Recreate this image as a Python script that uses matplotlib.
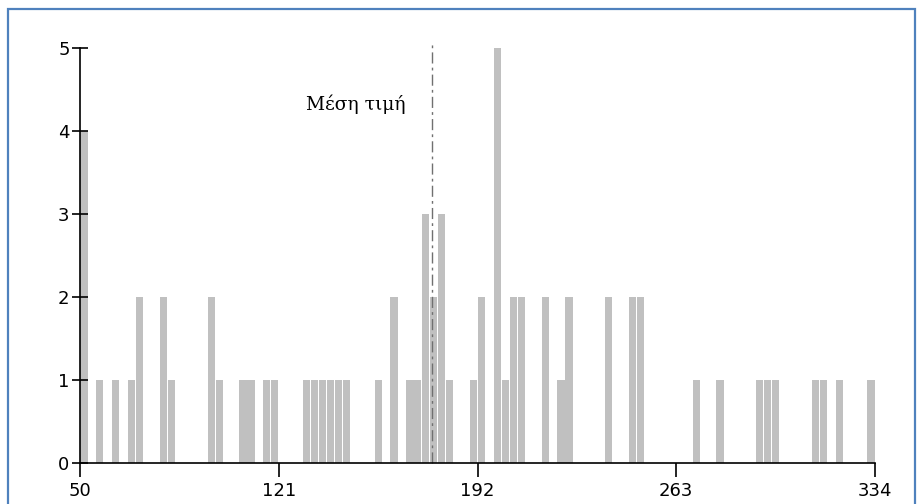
import matplotlib.pyplot as plt
from matplotlib.patches import Rectangle

# histogram: 100 bins between 50 and 334, only non-empty bins listed
x_min = 50
x_max = 334
n_bins = 100
bin_idx = [0, 2, 4, 6, 7, 10, 11, 16, 17, 20, 21, 23, 24, 28, 29, 30, 31, 32, 33,
           37, 39, 41, 42, 43, 44, 45, 46, 49, 50, 52, 53, 54, 55, 58, 60, 61,
           66, 69, 70, 77, 80, 85, 86, 87, 92, 93, 95, 99]
counts = [4, 1, 1, 1, 2, 2, 1, 2, 1, 1, 1, 1, 1, 1, 1, 1, 1, 1, 1,
          1, 2, 1, 1, 3, 2, 3, 1, 1, 2, 5, 1, 2, 2, 2, 1, 2,
          2, 2, 2, 1, 1, 1, 1, 1, 1, 1, 1, 1]
mean_value = 175.8
mean_label = 'Μέση τιμή'
xticks = [50, 121, 192, 263, 334]
yticks = [0, 1, 2, 3, 4, 5]

bin_w = (x_max - x_min) / n_bins
lefts = [x_min + i * bin_w for i in bin_idx]

fig = plt.figure(figsize=(9.17, 5.04), dpi=100)
ax = fig.add_axes([80 / 917, 41 / 504, 795 / 917, 415 / 504])

ax.bar([l + 0.15 for l in lefts], counts, width=bin_w * 0.9, align='edge',
       color='#c0c0c0', linewidth=0, zorder=1)

ax.vlines(mean_value, 0, 5.08, colors='#707070', linewidth=1,
          linestyles=(0, (8, 3, 2, 3)), clip_on=False, zorder=2)
ax.text(mean_value - 9.5, 4.2, mean_label, ha='right', va='bottom',
        fontsize=13.5, family='DejaVu Serif', color='black')

ax.set_xlim(x_min, x_max)
ax.set_ylim(0, 5)
ax.set_xticks(xticks)
ax.set_yticks(yticks)
ax.spines['top'].set_visible(False)
ax.spines['right'].set_visible(False)
ax.spines['left'].set_linewidth(1.2)
ax.spines['bottom'].set_linewidth(1.2)
ax.tick_params(axis='x', direction='out', length=10, width=1.2, pad=4, labelsize=13)
ax.tick_params(axis='y', direction='inout', length=11, width=1.2, pad=2, labelsize=13)

# blue frame around the picture
fig.patches.append(Rectangle((8 / 917, -0.05), 907 / 917, 1.05 - 9 / 504,
                             transform=fig.transFigure, fill=False,
                             edgecolor='#4f81bd', linewidth=1.6))

fig.savefig('out.png', dpi=100)
